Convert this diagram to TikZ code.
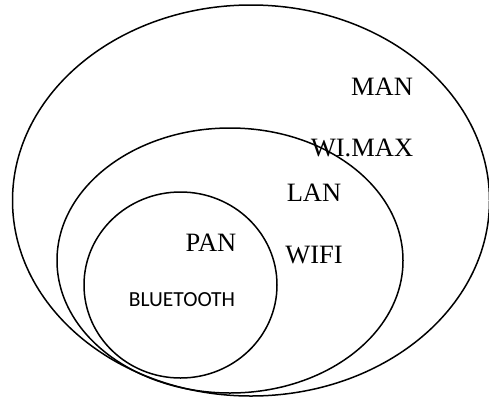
\documentclass[tikz,border=0pt]{standalone}
\usepackage{fontspec}
\setmainfont{Liberation Serif}
\newfontfamily\calibrifont{Carlito}
\usetikzlibrary{calc}

\tikzset{
	ring/.style={line width=1.5pt},
	netlabel/.style={font=\fontsize{26.5}{30}\selectfont, inner sep=0pt},
	techlabel/.style={font=\calibrifont\fontsize{21.5}{25}\selectfont, inner sep=0pt}
}

\begin{document}
\begin{tikzpicture}[x=1pt, y=-1pt]
		%%%%% START %%%%%
		\useasboundingbox (0, 0) rectangle (489, 399);
		
		\draw[ring] (251, 200.5) ellipse (238.5 and 195.5);
		\draw[ring] (230, 260.5) ellipse (173 and 132.5);
		\draw[ring] (180.5, 285) ellipse (96.5 and 93);
		
		\node[netlabel] (man) at (382, 87) {MAN};
		\node[netlabel] (wimax) at (362, 148) {WI.MAX};
		\node[netlabel] (lan) at (314, 193) {LAN};
		\node[netlabel] (wifi) at (314, 255) {WIFI};
		\node[netlabel] (pan) at (211, 243) {PAN};
		\node[techlabel] (bluetooth) at (182, 300) {BLUETOOTH};
		
		%%%%% END %%%%%
	\end{tikzpicture}
\end{document}
